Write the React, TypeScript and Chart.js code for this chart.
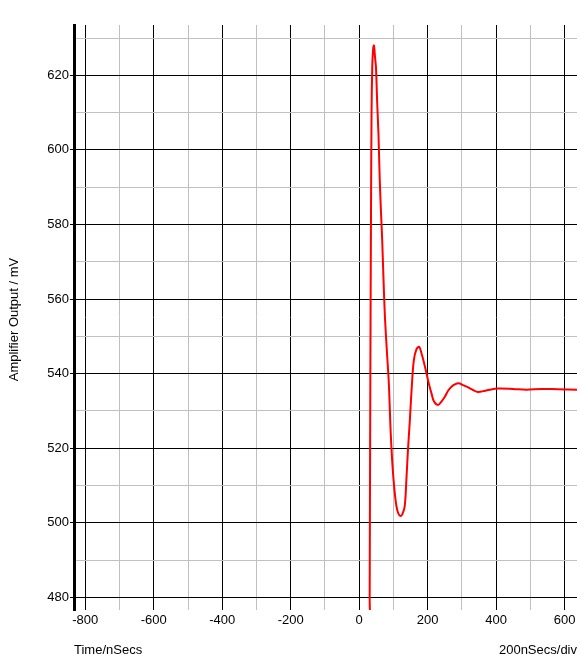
import React, { useEffect, useRef } from "react";
import { Chart, registerables } from "chart.js";

Chart.register(...registerables);

const timeNs = [-833, 28, 30.5, 32.5, 34.5, 36, 38, 40.5, 43, 46, 49, 52.3, 56.3, 59.6, 63, 67, 71, 74.7, 78.5, 82.6, 86.4, 89.5, 92, 97, 103, 109, 115, 121.5, 127, 133, 138, 142, 147.5, 153.5, 159.5, 167, 175, 182, 189.5, 196.5, 203, 211, 218.5, 230, 240, 250, 259.5, 269.5, 279, 290.5, 303, 318, 332.5, 347, 361.5, 381, 405, 449, 488, 532, 580, 636];
const outputMv = [400, 400, 480, 540, 585, 610, 622, 627, 628, 625, 622, 613, 604, 593, 584.5, 576, 565, 556, 549.5, 543.3, 537.5, 530, 524, 515.5, 508.7, 504.3, 502.3, 501.8, 502.5, 504.5, 512, 519, 527, 536.5, 543.6, 546.5, 547.2, 545.4, 542.8, 540.1, 537.4, 534.7, 532.5, 531.6, 532.5, 533.8, 535.4, 536.5, 537.1, 537.4, 536.9, 536.3, 535.6, 535.1, 535.3, 535.7, 536.0, 535.9, 535.7, 535.9, 535.8, 535.7];

const xTicks = [-800, -700, -600, -500, -400, -300, -200, -100, 0, 100, 200, 300, 400, 500, 600];
const yTicks = [480, 490, 500, 510, 520, 530, 540, 550, 560, 570, 580, 590, 600, 610, 620, 630];
const xMajorStep = 200;
const yMajorStep = 20;

const xTitle = "Time/nSecs";
const xScaleNote = "200nSecs/div";
const yTitle = "Amplifier Output / mV";

const FONT = "13px 'Liberation Sans', Arial, sans-serif";

export default function App() {
  const ref = useRef<HTMLCanvasElement | null>(null);

  useEffect(() => {
    document.body.style.margin = "0";
    const canvas = ref.current;
    if (!canvas) return;

    const titles = {
      id: "titles",
      afterDraw(chart: any) {
        const ctx = chart.ctx;
        const area = chart.chartArea;
        ctx.save();
        ctx.fillStyle = "#000";
        ctx.font = FONT;
        ctx.textBaseline = "alphabetic";
        ctx.textAlign = "left";
        ctx.fillText(xTitle, area.left, 654);
        ctx.textAlign = "right";
        ctx.fillText(xScaleNote, 577, 654);
        ctx.translate(18, (area.top + area.bottom) / 2 + 2);
        ctx.rotate(-Math.PI / 2);
        ctx.textAlign = "center";
        ctx.fillText(yTitle, 0, 0);
        ctx.restore();
      },
    };

    const chart = new Chart(canvas, {
      type: "line",
      data: {
        datasets: [
          {
            data: timeNs.map((t, i) => ({ x: t, y: outputMv[i] })),
            borderColor: "#ff0000",
            borderWidth: 2,
            pointRadius: 0,
            tension: 0.35,
            fill: false,
          },
        ],
      },
      options: {
        responsive: false,
        animation: false,
        layout: { padding: { left: 0, right: 3, top: 25, bottom: 0 } },
        plugins: {
          legend: { display: false },
          tooltip: { enabled: false },
        },
        scales: {
          x: {
            type: "linear",
            min: -833,
            max: 636,
            afterBuildTicks: (s: any) => {
              s.ticks = xTicks.map((v) => ({ value: v }));
            },
            afterFit: (s: any) => {
              s.height = 55;
            },
            border: { display: false },
            grid: {
              color: (c: any) => (c.tick && c.tick.value % xMajorStep === 0 ? "#000000" : "#c0c0c0"),
              lineWidth: 1,
              drawTicks: false,
            },
            ticks: {
              font: { family: "'Liberation Sans', Arial, sans-serif", size: 13 },
              color: "#000",
              padding: 3,
              maxRotation: 0,
              autoSkip: false,
              callback: (v: any) => (Number(v) % xMajorStep === 0 ? String(v) : ""),
            },
          },
          y: {
            type: "linear",
            min: 476.6,
            max: 633.5,
            afterBuildTicks: (s: any) => {
              s.ticks = yTicks.map((v) => ({ value: v }));
            },
            afterFit: (s: any) => {
              s.width = 74;
            },
            border: { display: true, color: "#000", width: 3 },
            grid: {
              color: (c: any) => (c.tick && c.tick.value % yMajorStep === 0 ? "#000000" : "#c0c0c0"),
              tickColor: (c: any) => (c.tick && c.tick.value % yMajorStep === 0 ? "#000000" : "rgba(0,0,0,0)"),
              lineWidth: 1,
              drawTicks: true,
              tickLength: 4,
            },
            ticks: {
              font: { family: "'Liberation Sans', Arial, sans-serif", size: 13 },
              color: "#000",
              padding: 1,
              autoSkip: false,
              callback: (v: any) => (Number(v) % yMajorStep === 0 ? String(v) : ""),
            },
          },
        },
      },
      plugins: [titles],
    } as any);

    return () => chart.destroy();
  }, []);

  return (
    <div style={{ position: "relative", width: 580, height: 665 }}>
      <canvas ref={ref} width={580} height={665} style={{ display: "block" }} />
    </div>
  );
}
